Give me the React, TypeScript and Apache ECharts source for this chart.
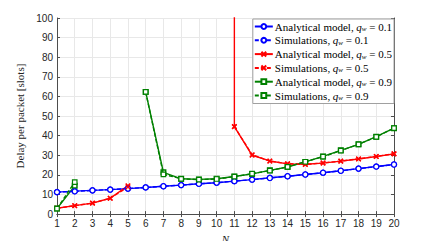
import React, { useEffect, useRef } from "react";
import * as echarts from "echarts";

const N = [1, 2, 3, 4, 5, 6, 7, 8, 9, 10, 11, 12, 13, 14, 15, 16, 17, 18, 19, 20];
const qValues = ["0.1", "0.5", "0.9"];

const blueAnalytical = [11.2, 11.7, 12.1, 12.5, 13.0, 13.6, 14.2, 14.8, 15.5, 16.0, 16.8, 17.6, 18.5, 19.3, 20.2, 21.1, 22.1, 23.2, 24.3, 25.3];
const blueSim = [11.2, 11.6, 12.1, 12.5, 13.0, 13.6, 14.2, 14.8, 15.4, 16.0, 16.8, 17.6, 18.4, 19.3, 20.2, 21.1, 22.1, 23.2, 24.2, 25.3];

const redAnalytical = [3.0, 4.3, 5.6, 8.1, 14.5, null, null, null, null, null, 44.6, 30.0, 27.1, 25.6, 25.4, 26.0, 27.0, 28.1, 29.4, 30.7];
const redSim = [3.0, 4.3, 5.6, 8.1, 13.8, null, null, null, null, null, 44.6, 30.3, 27.0, 25.7, 25.3, 26.1, 27.0, 28.2, 29.4, 30.8];
const redPoleN = 11; // analytical delay diverges just before N = 11
const redPoleValue = 1000;

const greenAnalytical = [2.8, 14.4, null, null, null, 62.3, 21.3, 18.0, 17.7, 18.0, 19.2, 20.5, 22.3, 24.0, 26.6, 29.4, 32.5, 35.6, 39.5, 43.8];
const greenSim = [2.8, 16.3, null, null, null, 62.3, 20.3, 18.0, 17.6, 17.9, 19.1, 20.6, 22.2, 24.1, 26.7, 29.3, 32.4, 35.6, 39.4, 43.8];

const colors = ["#0000ff", "#ff0000", "#008000"];
const symbols = ["circle", "path://M0,0L10,10M10,0L0,10", "rect"];
const symbolSizes = [5, 4.5, 4.5];

function pairs(vals: (number | null)[]) {
  return N.map((n, i) => [n, vals[i] === null ? "-" : vals[i]]);
}

export default function App() {
  const ref = useRef<HTMLDivElement>(null);
  useEffect(() => {
    const chart = echarts.init(ref.current!, undefined, { renderer: "svg" });
    const analytical = [blueAnalytical, redAnalytical, greenAnalytical];
    const sims = [blueSim, redSim, greenSim];
    const series: any[] = [];
    qValues.forEach((q, k) => {
      let aData: any[] = pairs(analytical[k]);
      if (k === 1) {
        const idx = N.indexOf(redPoleN);
        aData = [...aData.slice(0, idx), { value: [redPoleN, redPoleValue], symbol: "none" }, ...aData.slice(idx)];
      }
      const sym = symbols[k];
      const symSize = symbolSizes[k];
      series.push({
        name: `A${k}`,
        type: "line",
        data: aData,
        symbol: sym,
        symbolSize: symSize,
        showSymbol: true,
        clip: true,
        lineStyle: { color: colors[k], width: 1.4, type: "solid" },
        itemStyle: { color: "#fff", borderColor: colors[k], borderWidth: 1.5 },
        z: 3,
      });
      series.push({
        name: `S${k}`,
        type: "line",
        data: pairs(sims[k]),
        symbol: sym,
        symbolSize: symSize,
        showSymbol: true,
        clip: true,
        lineStyle: { color: colors[k], width: 1.4, type: [4, 2] },
        itemStyle: { color: "#fff", borderColor: colors[k], borderWidth: 1.2 },
        z: 4,
      });
    });

    const labelFor = (name: string) => {
      const k = Number(name[1]);
      const prefix = name[0] === "A" ? "Analytical model, " : "Simulations, ";
      return `${prefix}{i|q}{s|w}{t| = ${qValues[k]}}`;
    };

    const axisColor = "#4d4d4d";
    chart.setOption({
      animation: false,
      grid: { left: 57, right: 42, top: 18, bottom: 28, containLabel: false },
      legend: {
        orient: "vertical",
        right: 42,
        top: 19,
        backgroundColor: "#fff",
        borderColor: "#a0a0a0",
        borderWidth: 1,
        borderRadius: 0,
        padding: [2, 2, 2, 1],
        itemGap: 2.3,
        itemWidth: 18,
        itemHeight: 6,
        formatter: labelFor,
        textStyle: {
          fontFamily: "Liberation Serif",
          fontSize: 11,
          color: "#000",
          padding: [0, 0, 0, -3],
          rich: {
            i: { fontFamily: "Liberation Serif", fontStyle: "italic", fontSize: 11, color: "#000" },
            s: { fontFamily: "Liberation Serif", fontStyle: "italic", fontSize: 7, color: "#000", padding: [5, 0, 0, 0] },
            t: { fontFamily: "Liberation Serif", fontSize: 11, color: "#000" },
          },
        },
        data: ["A0", "S0", "A1", "S1", "A2", "S2"],
      },
      xAxis: [
        {
          type: "value",
          min: 1,
          max: 20,
          interval: 1,
          name: "N",
          nameLocation: "middle",
          nameGap: 17,
          nameTextStyle: { fontFamily: "Liberation Serif", fontStyle: "italic", fontSize: 11, color: "#222" },
          axisLine: { show: true, lineStyle: { color: axisColor, width: 1 } },
          axisTick: { show: true, inside: true, length: 3, lineStyle: { color: axisColor } },
          axisLabel: { fontFamily: "Liberation Sans", fontSize: 10, color: "#262626", margin: 4 },
          splitLine: { show: true, lineStyle: { color: "#e8e8e8", width: 1 } },
        },
        {
          type: "value",
          position: "top",
          min: 1,
          max: 20,
          interval: 1,
          axisLine: { show: true, lineStyle: { color: axisColor, width: 1 } },
          axisTick: { show: true, inside: true, length: 3, lineStyle: { color: axisColor } },
          axisLabel: { show: false },
          splitLine: { show: false },
        },
      ],
      yAxis: [
        {
          type: "value",
          min: 0,
          max: 100,
          interval: 10,
          name: "Delay per packet [slots]",
          nameLocation: "middle",
          nameGap: 27,
          nameTextStyle: { fontFamily: "Liberation Serif", fontSize: 11, color: "#222" },
          axisLine: { show: true, lineStyle: { color: axisColor, width: 1 } },
          axisTick: { show: true, inside: true, length: 3, lineStyle: { color: axisColor } },
          axisLabel: { fontFamily: "Liberation Sans", fontSize: 10, color: "#262626", margin: 4 },
          splitLine: { show: true, lineStyle: { color: "#e8e8e8", width: 1 } },
        },
        {
          type: "value",
          position: "right",
          min: 0,
          max: 100,
          interval: 10,
          axisLine: { show: true, lineStyle: { color: axisColor, width: 1 } },
          axisTick: { show: true, inside: true, length: 3, lineStyle: { color: axisColor } },
          axisLabel: { show: false },
          splitLine: { show: false },
        },
      ],
      series,
    });
    return () => chart.dispose();
  }, []);
  return <div ref={ref} style={{ width: 436, height: 249, margin: -8 }} />;
}
